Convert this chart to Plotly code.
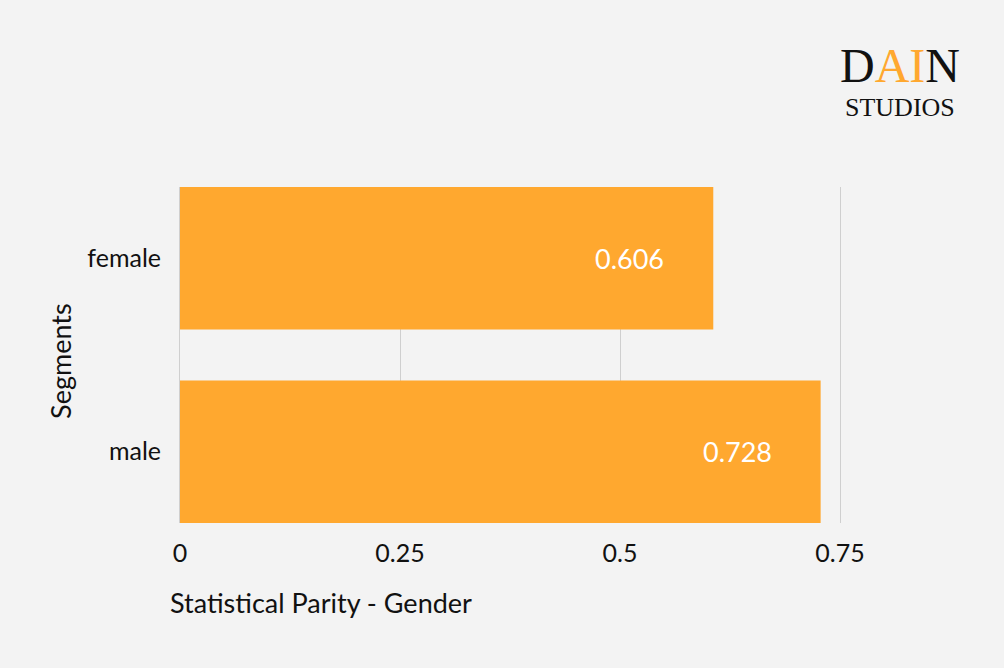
import plotly.graph_objects as go

categories = ["male", "female"]
values = [0.728, 0.606]
labels = ["0.728", "0.606"]
tick_vals = [0, 0.25, 0.5, 0.75]
tick_text = ["0", "0.25", "0.5", "0.75"]

BG = "#f3f3f3"
ORANGE = "#ffa82f"
GRID = "#cfcfcf"
BAR_W = 0.737

fig = go.Figure()
fig.add_trace(go.Bar(
    y=categories, x=values, orientation="h",
    marker=dict(color=ORANGE, line=dict(width=0)),
    hoverinfo="skip",
))

for c, v, t in zip(categories, values, labels):
    fig.add_annotation(x=v, y=c, text=t, showarrow=False, xanchor="right",
                       xshift=-47, font=dict(family="Lato", size=27, color="white"))

fig.add_annotation(xref="paper", yref="paper", x=-0.018, y=-0.238, xanchor="left", yanchor="middle",
                   text="Statistical Parity - Gender", showarrow=False,
                   font=dict(family="Lato", size=27, color="#111"))
fig.add_annotation(xref="paper", yref="paper", x=-0.182, y=0.482, xanchor="center", yanchor="middle",
                   text="Segments", textangle=-90, showarrow=False,
                   font=dict(family="Lato", size=27, color="#111"))
# logo
fig.add_annotation(xref="paper", yref="paper", x=1.0909, y=1.362, xanchor="center", yanchor="middle",
                   text="D<span style='color:#ffa82f'>AI</span>N", showarrow=False,
                   font=dict(family="Liberation Serif", size=48, color="#111"))
fig.add_annotation(xref="paper", yref="paper", x=1.0909, y=1.236, xanchor="center", yanchor="middle",
                   text="STUDIOS", showarrow=False,
                   font=dict(family="Liberation Serif", size=26, color="#111"))

fig.update_layout(
    width=1004, height=668,
    paper_bgcolor=BG, plot_bgcolor=BG,
    margin=dict(l=180, r=164, t=187, b=145),
    bargap=1 - BAR_W,
    showlegend=False,
    font=dict(family="Lato", size=25, color="#111"),
    xaxis=dict(range=[0, 0.75], tickvals=tick_vals, ticktext=tick_text,
               showgrid=True, gridcolor=GRID, gridwidth=1,
               zeroline=False, ticks="outside", ticklen=8, tickcolor=BG,
               tickfont=dict(size=25)),
    yaxis=dict(range=[-BAR_W / 2, 1 + BAR_W / 2], showgrid=False, zeroline=False,
               showline=True, mirror=True, linecolor=GRID, linewidth=1,
               layer="below traces",
               ticks="outside", ticklen=13, tickcolor=BG, tickfont=dict(size=25)),
)
fig.write_html("out.html", config={"displayModeBar": False},
               post_script="document.body.style.margin='0';document.body.style.background='#f3f3f3';")
